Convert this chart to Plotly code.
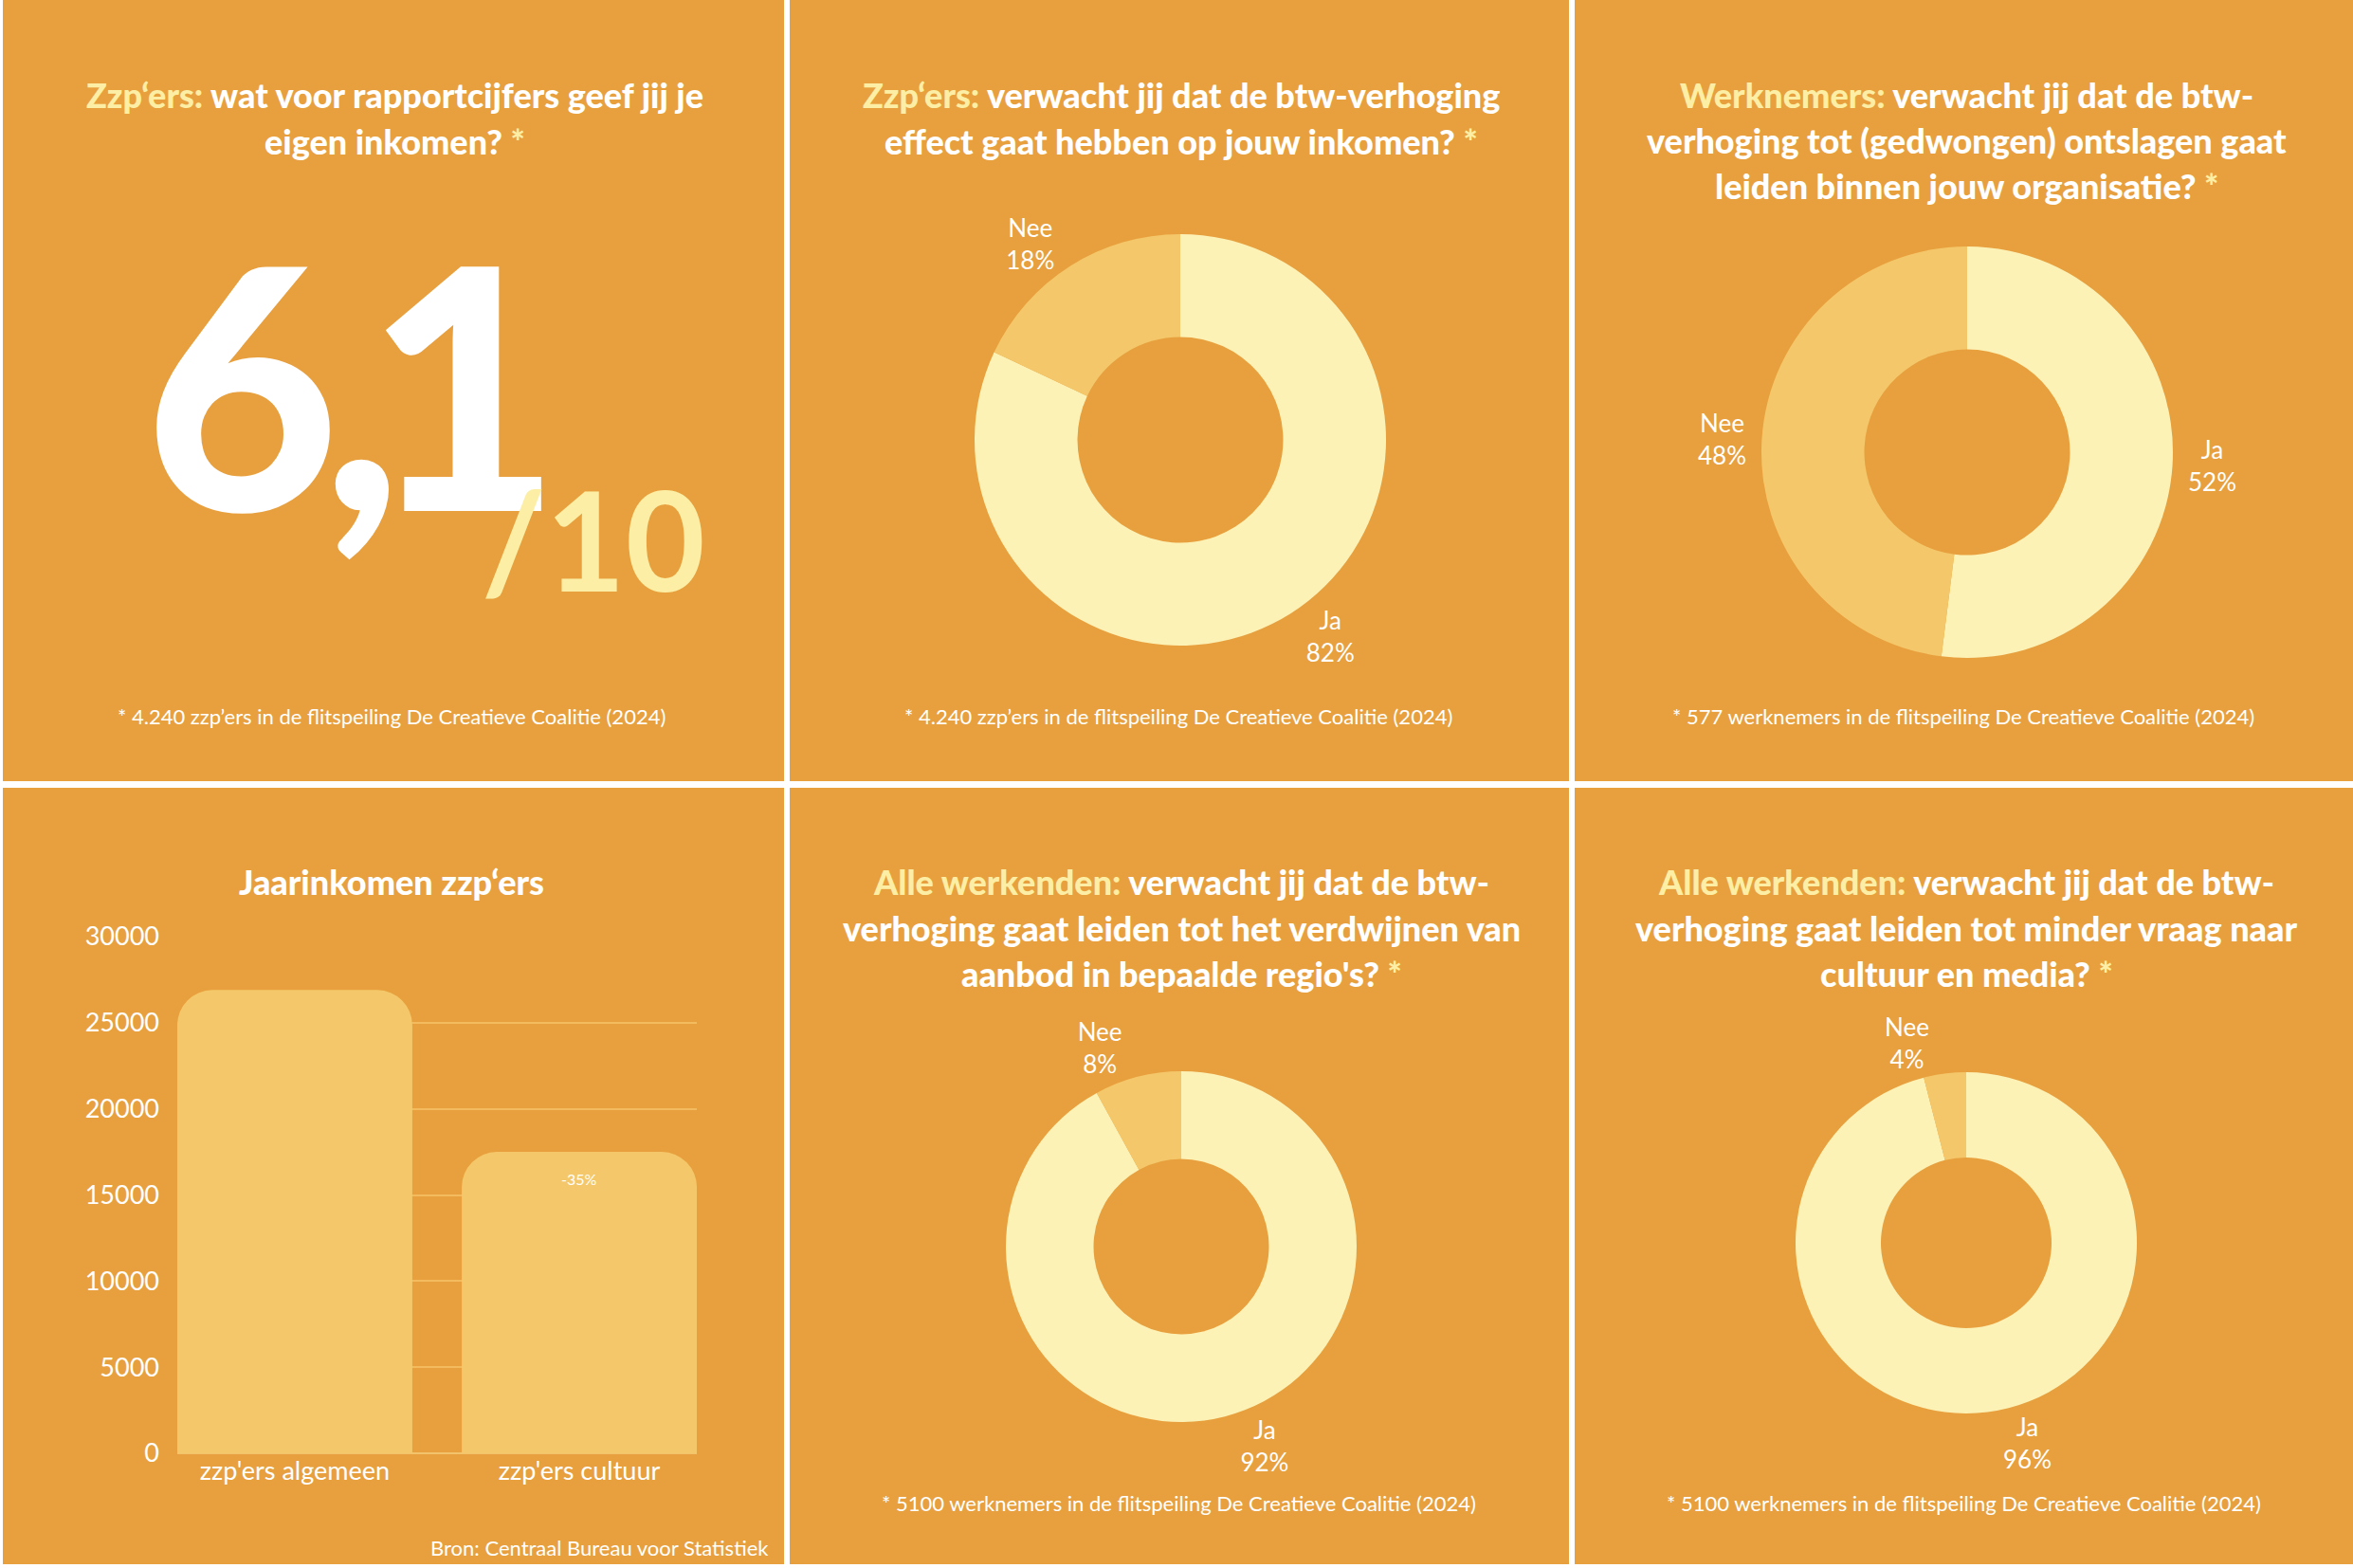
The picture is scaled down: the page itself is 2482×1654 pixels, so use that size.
import plotly.graph_objects as go

# ---------------- data ----------------
score_digits = ["6", ",", "1"]
score_max_text = "/10"

pie_labels = ["Ja", "Nee"]
pie_zzp_inkomen = [82, 18]
pie_werknemers_ontslagen = [52, 48]
pie_alle_regio = [92, 8]
pie_alle_vraag = [96, 4]

bar_categories = ["zzp'ers algemeen", "zzp'ers cultuur"]
bar_values = [26900, 17500]
bar_note = "-35%"
y_ticks = [0, 5000, 10000, 15000, 20000, 25000, 30000]

footnote_zzp = "* 4.240 zzp’ers in de flitspeiling De Creatieve Coalitie (2024)"
footnote_wn = "* 577 werknemers in de flitspeiling De Creatieve Coalitie (2024)"
footnote_alle = "* 5100 werknemers in de flitspeiling De Creatieve Coalitie (2024)"
bron_text = "Bron: Centraal Bureau voor Statistiek"

# ---------------- style ----------------
W, H = 2482, 1654
ORANGE = "#E8A03E"
LIGHT = "#FDF2B6"
MID = "#F4C86A"
HIGHLIGHT = "#FCEFA5"
WHITE = "#FFFFFF"
FONT = "Lato"


def fx(x):
    return x / W


def fy(y):
    return 1 - y / H


def hl(t):
    return f"<span style='color:{HIGHLIGHT}'>{t}</span>"


fig = go.Figure()

# panel backgrounds
panels = [(3, 0, 827, 824), (833, 0, 1655, 824), (1661, 0, 2482, 824),
          (3, 831, 827, 1650), (833, 831, 1655, 1650), (1661, 831, 2482, 1650)]
for (x0, y0, x1, y1) in panels:
    fig.add_shape(type="rect", xref="paper", yref="paper",
                  x0=fx(x0), x1=fx(x1), y0=fy(y1), y1=fy(y0),
                  fillcolor=ORANGE, line=dict(width=0), layer="below")


def add_text(x, y, text, size, color=WHITE, weight="normal", xanchor="center", family=FONT):
    fig.add_annotation(x=fx(x), y=fy(y), xref="paper", yref="paper", text=text,
                       showarrow=False, xanchor=xanchor, yanchor="middle",
                       font=dict(family=family, size=size, color=color, weight=weight))


# titles
TS = 36
title_lines = [
    (416, [100, 149], [hl("Zzp‘ers:") + " wat voor rapportcijfers geef jij je",
                       "eigen inkomen? " + hl("*")]),
    (1246, [100, 149], [hl("Zzp‘ers:") + " verwacht jij dat de btw-verhoging",
                        "effect gaat hebben op jouw inkomen? " + hl("*")]),
    (2074, [100, 148, 196], [hl("Werknemers:") + " verwacht jij dat de btw-",
                             "verhoging tot (gedwongen) ontslagen gaat",
                             "leiden binnen jouw organisatie? " + hl("*")]),
    (413, [930], ["Jaarinkomen zzp‘ers"]),
    (1246, [930, 979, 1027], [hl("Alle werkenden:") + " verwacht jij dat de btw-",
                              "verhoging gaat leiden tot het verdwijnen van",
                              "aanbod in bepaalde regio's? " + hl("*")]),
    (2074, [930, 979, 1027], [hl("Alle werkenden:") + " verwacht jij dat de btw-",
                              "verhoging gaat leiden tot minder vraag naar",
                              "cultuur en media? " + hl("*")]),
]
for cx, ys, lines in title_lines:
    for y, line in zip(ys, lines):
        add_text(cx, y, line, TS, weight=900)

# big score (one text, tight letter spacing)
score_html = (f"<span style='letter-spacing:-18px'>{score_digits[0]}</span>"
              f"<span style='letter-spacing:-38px'>{score_digits[1]}</span>"
              f"<span style='letter-spacing:-45px'>{score_digits[2]}</span>")
add_text(150, 402, score_html, 355, weight=900, xanchor="left")
add_text(626, 568, score_max_text, 145, color=HIGHLIGHT, weight=700)

# footnotes
FS = 22
add_text(413, 755, footnote_zzp, FS)
add_text(1243, 755, footnote_zzp, FS)
add_text(2071, 755, footnote_wn, FS)
add_text(1243, 1585, footnote_alle, FS)
add_text(2071, 1585, footnote_alle, FS)
add_text(813, 1632, bron_text, FS, xanchor="right")


# donuts
def add_donut(values, cx, cy, r):
    fig.add_trace(go.Pie(
        labels=pie_labels, values=values, hole=0.5, sort=False,
        direction="clockwise", rotation=0,
        marker=dict(colors=[LIGHT, MID], line=dict(width=0)),
        textinfo="label+percent", textposition="outside",
        textfont=dict(family=FONT, size=26, color=WHITE),
        domain=dict(x=[fx(cx - r), fx(cx + r)], y=[fy(cy + r), fy(cy - r)]),
        automargin=False, showlegend=False, hoverinfo="skip"))


add_donut(pie_zzp_inkomen, 1245, 464, 217)
add_donut(pie_werknemers_ontslagen, 2075, 477, 217)
add_donut(pie_alle_regio, 1246, 1315, 185)
add_donut(pie_alle_vraag, 2074, 1311, 180)

# bar chart
fig.add_trace(go.Bar(
    x=bar_categories, y=bar_values,
    marker=dict(color=MID, cornerradius=37, line=dict(width=0)),
    showlegend=False, hoverinfo="skip"))
fig.add_annotation(x=bar_categories[1], y=bar_values[1], xref="x", yref="y",
                   text=bar_note, showarrow=False, yanchor="top", yshift=-17,
                   font=dict(family=FONT, size=16, color=WHITE))

fig.update_layout(
    width=W, height=H, margin=dict(l=0, r=0, t=0, b=0, autoexpand=False),
    paper_bgcolor=WHITE, plot_bgcolor="rgba(0,0,0,0)",
    font=dict(family=FONT, color=WHITE),
    bargap=0.174, showlegend=False,
    xaxis=dict(domain=[fx(187), fx(735)], range=[-0.413, 1.413], showgrid=False,
               zeroline=False, showline=False, ticks="", automargin=False,
               tickfont=dict(family=FONT, size=27, color=WHITE)),
    yaxis=dict(domain=[fy(1533), fy(988)], range=[0, 30000], tickvals=y_ticks,
               tickformat="d", showgrid=True, gridcolor="rgba(248,196,108,0.7)",
               gridwidth=1.5, zeroline=True, zerolinecolor="#F2C36A", zerolinewidth=2,
               showline=False, ticks="", ticklabelstandoff=18, automargin=False,
               tickfont=dict(family=FONT, size=27, color=WHITE)),
)

fig.write_html("out.html", config={"displayModeBar": False},
               post_script="document.body.style.margin='0';")
